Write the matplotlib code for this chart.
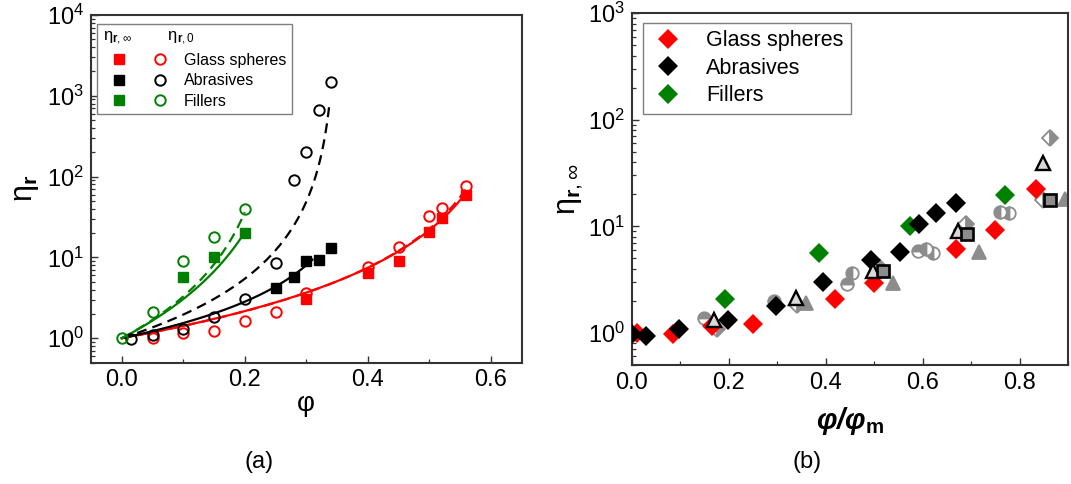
import numpy as np
import matplotlib
matplotlib.use("Agg")
import matplotlib.pyplot as plt
from matplotlib.legend_handler import HandlerTuple
from matplotlib.ticker import LogLocator, MultipleLocator, NullFormatter, FormatStrFormatter

plt.rcParams["font.family"] = ["Liberation Sans", "DejaVu Sans"]
plt.rcParams["mathtext.fontset"] = "custom"
plt.rcParams["mathtext.rm"] = "Liberation Sans"
plt.rcParams["mathtext.it"] = "Liberation Sans:italic"
plt.rcParams["mathtext.bf"] = "Liberation Sans:bold"

RED, BLACK, GREEN, GREY = "#ff0000", "#000000", "#008000", "#8c8c8c"

# ---------------- panel (a): relative viscosity vs volume fraction ----------------
glass_phi0 = [0.05, 0.10, 0.15, 0.20, 0.25, 0.30, 0.40, 0.45, 0.50, 0.52, 0.56]
glass_eta0 = [1.0, 1.15, 1.23, 1.65, 2.13, 3.6, 7.6, 13.6, 33, 40.6, 76.7]
glass_phiinf = [0.30, 0.40, 0.45, 0.50, 0.52, 0.56]
glass_etainf = [3.04, 6.4, 9.05, 20.9, 30.5, 59.4]

abr_phi0 = [0.015, 0.05, 0.10, 0.15, 0.20, 0.25, 0.28, 0.30, 0.32, 0.34]
abr_eta0 = [0.97, 1.1, 1.3, 1.85, 3.06, 8.6, 91, 202, 668, 1472]
abr_phiinf = [0.25, 0.28, 0.30, 0.32, 0.34]
abr_etainf = [4.16, 5.7, 9.05, 9.3, 13.0]

fill_phi0 = [0.0, 0.05, 0.10, 0.15, 0.20]
fill_eta0 = [1.0, 2.13, 9.1, 18.1, 39.8]
fill_phiinf = [0.10, 0.15, 0.20]
fill_etainf = [5.8, 10.2, 20.0]

# Krieger-Dougherty fit parameters: (phi_max, exponent, last phi of the curve)
kd_glass_inf = (0.65, 2.10, 0.56)
kd_glass_0 = (0.64, 2.05, 0.56)
kd_abr_inf = (0.40, 1.50, 0.31)
kd_abr_0 = (0.35, 2.00, 0.338)
kd_fill_inf = (0.30, 2.75, 0.20)
kd_fill_0 = (0.26, 2.45, 0.20)


def kd_curve(params):
    phim, expo, end = params
    phi = np.linspace(0.0, end, 300)
    return phi, (1.0 - phi / phim) ** (-expo)


# ---------------- panel (b): high-shear viscosity vs reduced volume fraction ----------------
b_glass_x = [0.01, 0.085, 0.165, 0.25, 0.418, 0.50, 0.668, 0.75, 0.834]
b_glass_y = [1.0, 0.97, 1.17, 1.22, 2.1, 2.92, 6.17, 9.2, 22.6]
b_abr_x = [0.0, 0.029, 0.098, 0.198, 0.297, 0.395, 0.493, 0.552, 0.592, 0.628, 0.668]
b_abr_y = [0.98, 0.94, 1.09, 1.32, 1.77, 3.0, 4.86, 5.74, 10.4, 13.2, 16.7]
b_fill_x = [0.192, 0.385, 0.574, 0.770]
b_fill_y = [2.06, 5.65, 10.0, 19.6]

# literature data (grey symbols)
lit_circ_a_x = [0.148, 0.294, 0.443, 0.590]
lit_circ_a_y = [1.38, 1.99, 2.85, 5.87]
lit_circ_b_x = [0.455, 0.607, 0.621, 0.759, 0.778]
lit_circ_b_y = [3.64, 6.17, 5.61, 13.5, 13.2]
lit_tri_x = [0.360, 0.539, 0.717, 0.894]
lit_tri_y = [1.9, 2.93, 5.74, 17.9]
lit_dia_x = [0.175, 0.341, 0.509, 0.680, 0.690, 0.847, 0.862]
lit_dia_y = [1.09, 1.81, 4.15, 9.3, 10.4, 17.8, 66.8]
lit_otri_x = [0.170, 0.339, 0.497, 0.673, 0.848]
lit_otri_y = [1.33, 2.12, 3.8, 9.0, 39.4]
lit_sq_x = [0.518, 0.691, 0.862]
lit_sq_y = [3.77, 8.53, 17.8]

fig = plt.figure(figsize=(10.71, 4.84), dpi=100)
axa = fig.add_axes([0.085, 0.251, 0.402, 0.718])
axb = fig.add_axes([0.590, 0.246, 0.4074, 0.7267])

SPINE = "#333333"


def style_axes(ax):
    for s in ax.spines.values():
        s.set_color(SPINE)
        s.set_linewidth(1.5)
    ax.tick_params(which="both", direction="in", top=False, right=False,
                   color=SPINE, labelsize=17, pad=5)
    ax.tick_params(which="major", length=5, width=1.0)
    ax.tick_params(which="minor", length=3, width=0.9)
    ax.set_yscale("log")
    ax.yaxis.set_major_locator(LogLocator(base=10, numticks=10))
    ax.yaxis.set_minor_locator(LogLocator(base=10, subs=np.arange(2, 10), numticks=20))
    ax.yaxis.set_minor_formatter(NullFormatter())


# ---- panel (a) ----
style_axes(axa)
for params, col, ls in [(kd_glass_inf, RED, "-"), (kd_glass_0, RED, "--"),
                        (kd_abr_inf, BLACK, "-"), (kd_abr_0, BLACK, "--"),
                        (kd_fill_inf, GREEN, "-"), (kd_fill_0, GREEN, "--")]:
    x, y = kd_curve(params)
    line, = axa.plot(x, y, color=col, lw=1.6, ls=ls, zorder=2)
    if ls == "--":
        line.set_dashes((4.5, 2.8))

sq_kw = dict(ls="none", marker="s", ms=6.5, zorder=3)
ci_kw = dict(ls="none", marker="o", ms=7.5, mfc="none", mew=1.4, zorder=4)
h_gs, = axa.plot(glass_phiinf, glass_etainf, color=RED, **sq_kw)
h_go, = axa.plot(glass_phi0, glass_eta0, mec=RED, **ci_kw)
h_as, = axa.plot(abr_phiinf, abr_etainf, color=BLACK, **sq_kw)
h_ao, = axa.plot(abr_phi0, abr_eta0, mec=BLACK, **ci_kw)
h_fs, = axa.plot(fill_phiinf, fill_etainf, color=GREEN, **sq_kw)
h_fo, = axa.plot(fill_phi0, fill_eta0, mec=GREEN, **ci_kw)

axa.set_xlim(-0.05, 0.65)
axa.set_ylim(0.5, 1e4)
axa.xaxis.set_major_locator(MultipleLocator(0.2))
axa.xaxis.set_minor_locator(MultipleLocator(0.1))
axa.xaxis.set_major_formatter(FormatStrFormatter("%.1f"))
axa.set_xlabel("φ", fontsize=20, labelpad=0)
axa.set_ylabel("η$_{\\mathbf{r}}$", fontsize=22, labelpad=4)

leg_a = axa.legend([(h_gs, h_go), (h_as, h_ao), (h_fs, h_fo)],
                   ["Glass spheres", "Abrasives", "Fillers"],
                   handler_map={tuple: HandlerTuple(ndivide=None, pad=0.45)},
                   handlelength=4.6, handletextpad=0.45, fontsize=11.5,
                   title="η$_{\\mathbf{r},\\infty}$        η$_{\\mathbf{r},0}$",
                   title_fontsize=12, alignment="left",
                   loc="upper left", bbox_to_anchor=(0.0146, 0.975),
                   borderaxespad=0, borderpad=0.35, labelspacing=0.34,
                   fancybox=False, framealpha=1, edgecolor="#7f7f7f")
leg_a.get_frame().set_linewidth(1.0)

# ---- panel (b) ----
style_axes(axb)
grey_kw = dict(ls="none", color=GREY, mec=GREY, mfc=GREY, mfcalt="white", zorder=2)
axb.plot(lit_circ_a_x, lit_circ_a_y, marker="o", ms=9, fillstyle="top", mew=1.3, **grey_kw)
axb.plot(lit_circ_b_x, lit_circ_b_y, marker="o", ms=9, fillstyle="left", mew=1.3, **grey_kw)
axb.plot(lit_tri_x, lit_tri_y, marker="^", ms=9.5, mew=1.3, **grey_kw)
axb.plot(lit_dia_x, lit_dia_y, marker="D", ms=8, fillstyle="right", mew=1.3, **grey_kw)

dia_kw = dict(ls="none", marker="D", ms=10.5, mew=0, zorder=3)
hb_g, = axb.plot(b_glass_x, b_glass_y, color=RED, **dia_kw)
hb_f, = axb.plot(b_fill_x, b_fill_y, color=GREEN, **dia_kw)
hb_a, = axb.plot(b_abr_x, b_abr_y, color=BLACK, **dia_kw)

axb.plot(lit_otri_x, lit_otri_y, ls="none", marker="^", ms=9.5, mfc="#d9d9d9",
         mec=BLACK, mew=1.7, zorder=4)
axb.plot(lit_sq_x, lit_sq_y, ls="none", marker="s", ms=8, mfc=GREY,
         mec=BLACK, mew=1.9, zorder=4)

axb.set_xlim(0.0, 0.9)
axb.set_ylim(0.5, 1e3)
axb.xaxis.set_major_locator(MultipleLocator(0.2))
axb.xaxis.set_minor_locator(MultipleLocator(0.1))
axb.xaxis.set_major_formatter(FormatStrFormatter("%.1f"))
axb.set_xlabel("φ/φ$_{\\mathbf{m}}$", fontsize=21, fontweight="bold", fontstyle="italic",
               labelpad=8)
axb.set_ylabel("η$_{\\mathbf{r},\\infty}$", fontsize=22, labelpad=2)

leg_b = axb.legend([hb_g, hb_a, hb_f], ["Glass spheres", "Abrasives", "Fillers"],
                   fontsize=15.5, handlelength=1.6, handletextpad=1.0,
                   loc="upper left", bbox_to_anchor=(0.025, 0.973),
                   borderaxespad=0, borderpad=0.35, labelspacing=0.3,
                   fancybox=False, framealpha=1, edgecolor="#7f7f7f")
leg_b.get_frame().set_linewidth(1.0)

fig.text(259 / 1071, 1 - 462 / 484, "(a)", fontsize=17, ha="center", va="center")
fig.text(807 / 1071, 1 - 462 / 484, "(b)", fontsize=17, ha="center", va="center")

fig.savefig("out.png", dpi=100)
